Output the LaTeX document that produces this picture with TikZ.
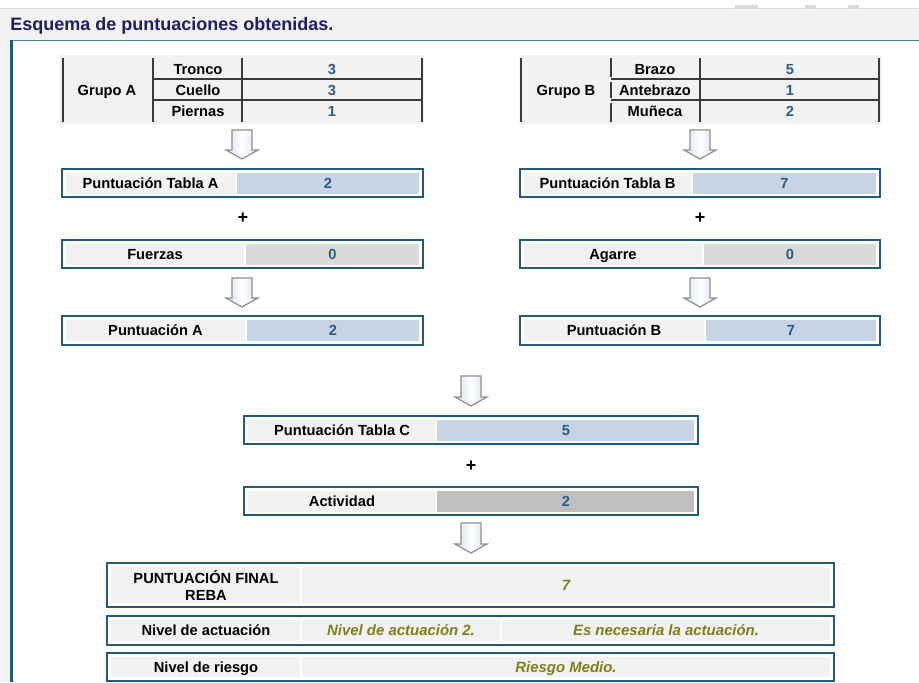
\documentclass[tikz,border=0pt]{standalone}
\usepackage{fontspec}
\setmainfont{Liberation Sans}
\definecolor{hdrgray}{HTML}{F2F2F2}
\definecolor{cellgray}{HTML}{F2F2F2}
\definecolor{cellblue}{HTML}{C6D4E3}
\definecolor{cellmid}{HTML}{DADADA}
\definecolor{celldark}{HTML}{BFBFBF}
\definecolor{boxteal}{HTML}{235A7C}
\definecolor{panelteal}{HTML}{1F5B7A}
\definecolor{topteal}{HTML}{4D7F9C}
\definecolor{valblue}{HTML}{2B5D85}
\definecolor{olivetxt}{HTML}{7F7F18}
\definecolor{titlenavy}{HTML}{1D1D6B}
\definecolor{arrowedge}{HTML}{8F8F8F}
\definecolor{arrowblue}{HTML}{D3E0EE}
\definecolor{gridline}{HTML}{3A3A3A}
\newcommand{\blkarrow}[4]{% name, x, ytop, ybottom
  \coordinate (#1) at (#2,#4);
  \path[arrowstyle] ({#2-10},#3) -- ({#2+10},#3) -- ({#2+10},{#4-9}) -- ({#2+16},{#4-9})
    -- (#2,#4) -- ({#2-16},{#4-9}) -- ({#2-10},{#4-9}) -- cycle;}
\begin{document}
\begin{tikzpicture}[x=0.75pt,y=-0.75pt,
  lblfont/.style={font=\bfseries\fontsize{11}{12.5}\selectfont, text=black, inner sep=0pt},
  lbl/.style={lblfont, text height=7.9pt, text depth=0pt},
  val/.style={lbl, text=valblue},
  oli/.style={font=\bfseries\itshape\fontsize{11.2}{13}\selectfont, text=olivetxt, inner sep=0pt, text height=8pt, text depth=0pt},
  boxline/.style={draw=boxteal, line width=1.6pt},
  grid/.style={draw=gridline, line width=1.1pt},
  arrowstyle/.style={draw=arrowedge, line width=0.9pt, left color=arrowblue, right color=arrowblue, middle color=white},
  plus/.style={font=\bfseries\fontsize{13.5}{15}\selectfont, inner sep=0pt}]
\useasboundingbox (0,0) rectangle (919,682);
% background and header
\fill[white] (0,0) rectangle (919,682);
\fill[hdrgray] (0,9) rectangle (919,40);
\fill[hdrgray!90!white] (0,40) rectangle (10,682);
\draw[gray!25, line width=0.5pt] (0,8.5) -- (919,8.5);
\fill[gray!30] (735,5) rectangle (758,9);
\fill[gray!30] (805,5) rectangle (816,9);
\fill[gray!30] (848,5) rectangle (859,9);
\node[anchor=west, inner sep=0pt, font=\bfseries\fontsize{13.5}{15}\selectfont, text=titlenavy, text height=9.7pt, text depth=0pt] (title) at (10,24.5) {Esquema de puntuaciones obtenidas.};
\draw[topteal, line width=1.2pt] (11,40.5) -- (919,40.5);
\draw[panelteal, line width=1.6pt] (11.5,40) -- (11.5,682);

% ---------- Grupo A ----------
\fill[cellgray] (60,55) rectangle (424,124);
\draw[grid] (63,58) -- (63,122);
\draw[grid] (153,58) -- (153,122);
\draw[grid] (242,58) -- (242,122);
\draw[grid] (422,58) -- (422,122);
\draw[grid] (153,79) -- (422,79);
\draw[grid] (153,100) -- (422,100);
\node[lbl] (gA) at (107,90) {Grupo A};
\node[lbl] (tronco) at (198,69) {Tronco};
\node[lbl] (cuello) at (198,90) {Cuello};
\node[lbl] (piernas) at (198,111) {Piernas};
\node[val] (vtronco) at (332,69) {3};
\node[val] (vcuello) at (332,90) {3};
\node[val] (vpiernas) at (332,111) {1};

% ---------- Grupo B ----------
\fill[cellgray] (519,55) rectangle (882,124);
\draw[grid] (521,58) -- (521,122);
\draw[grid] (611,58) -- (611,77);
\draw[grid] (611,82) -- (611,98);
\draw[grid] (611,103) -- (611,122);
\draw[grid] (700,58) -- (700,122);
\draw[grid] (879,58) -- (879,122);
\draw[grid] (611,79) -- (879,79);
\draw[grid] (611,100) -- (879,100);
\node[lbl] (gB) at (566,90) {Grupo B};
\node[lbl] (brazo) at (655,69) {Brazo};
\node[lbl] (antebrazo) at (655,90) {Antebrazo};
\node[lbl] (muneca) at (655,111) {Muñeca};
\node[val] (vbrazo) at (790,69) {5};
\node[val] (vantebrazo) at (790,90) {1};
\node[val] (vmuneca) at (790,111) {2};

% ---------- left column ----------
\blkarrow{arA1}{242}{130}{159}
\draw[boxline] (62,169) rectangle (423,197);
\fill[cellgray] (66,173) rectangle (235,194);
\fill[cellblue] (237,173) rectangle (419,194);
\node[lbl] (tAl) at (150.5,183.5) {Puntuación Tabla A};
\node[val] (tAv) at (328,183.5) {2};
\node[plus] (plusA) at (243,218) {+};
\draw[boxline] (62,240) rectangle (423,268);
\fill[cellgray] (66,244) rectangle (244,264.5);
\fill[cellmid] (246,244) rectangle (419,264.5);
\node[lbl] (fl) at (155,254.5) {Fuerzas};
\node[val] (fv) at (332.5,254.5) {0};
\blkarrow{arA2}{242}{278}{307}
\draw[boxline] (62,316) rectangle (423,345);
\fill[cellgray] (66,320) rectangle (245,341);
\fill[cellblue] (247,320) rectangle (419,341);
\node[lbl] (pAl) at (155.5,330.5) {Puntuación A};
\node[val] (pAv) at (333,330.5) {2};

% ---------- right column ----------
\blkarrow{arB1}{700}{130}{159}
\draw[boxline] (520,169) rectangle (880,197);
\fill[cellgray] (524,173) rectangle (691,194);
\fill[cellblue] (693,173) rectangle (876,194);
\node[lbl] (tBl) at (607.5,183.5) {Puntuación Tabla B};
\node[val] (tBv) at (784.5,183.5) {7};
\node[plus] (plusB) at (700,218) {+};
\draw[boxline] (520,240) rectangle (880,268);
\fill[cellgray] (524,244) rectangle (702,264.5);
\fill[cellmid] (704,244) rectangle (876,264.5);
\node[lbl] (agl) at (613,254.5) {Agarre};
\node[val] (agv) at (790,254.5) {0};
\blkarrow{arB2}{700}{278}{307}
\draw[boxline] (520,316) rectangle (880,345);
\fill[cellgray] (524,320) rectangle (704,341);
\fill[cellblue] (706,320) rectangle (876,341);
\node[lbl] (pBl) at (614,330.5) {Puntuación B};
\node[val] (pBv) at (791,330.5) {7};

% ---------- center ----------
\blkarrow{arC1}{471}{376}{406}
\draw[boxline] (244,416) rectangle (698,444);
\fill[cellgray] (248,420) rectangle (435,440.5);
\fill[cellblue] (437,420) rectangle (694,440.5);
\node[lbl] (tCl) at (342,430.5) {Puntuación Tabla C};
\node[val] (tCv) at (566,430.5) {5};
\node[plus] (plusC) at (471,466) {+};
\draw[boxline] (244,487) rectangle (698,515);
\fill[cellgray] (248,491) rectangle (435,511.5);
\fill[celldark] (437,491) rectangle (694,511.5);
\node[lbl] (actl) at (342,501.5) {Actividad};
\node[val] (actv) at (566,501.5) {2};
\blkarrow{arC2}{471}{523}{553}

% ---------- bottom ----------
\draw[boxline] (107,563) rectangle (834,607);
\fill[cellgray] (111,567) rectangle (300,603);
\fill[cellgray] (302,567) rectangle (830,603);
\node[lblfont, align=center] (finl) at (206,585.5) {PUNTUACIÓN FINAL\\REBA};
\node[oli] (finv) at (566,585) {7};
\draw[boxline] (107,616) rectangle (834,645);
\fill[cellgray] (111,620) rectangle (300,641);
\fill[cellgray] (302,620) rectangle (500,641);
\fill[cellgray] (502,620) rectangle (830,641);
\node[lbl] (nal) at (206,630.5) {Nivel de actuación};
\node[oli] (nav1) at (401,630.5) {Nivel de actuación 2.};
\node[oli] (nav2) at (666,630.5) {Es necesaria la actuación.};
\draw[boxline] (107,653) rectangle (834,681);
\fill[cellgray] (111,657) rectangle (300,677);
\fill[cellgray] (302,657) rectangle (830,677);
\node[lbl] (nrl) at (206,667) {Nivel de riesgo};
\node[oli] (nrv) at (566,667) {Riesgo Medio.};
\end{tikzpicture}
\end{document}
